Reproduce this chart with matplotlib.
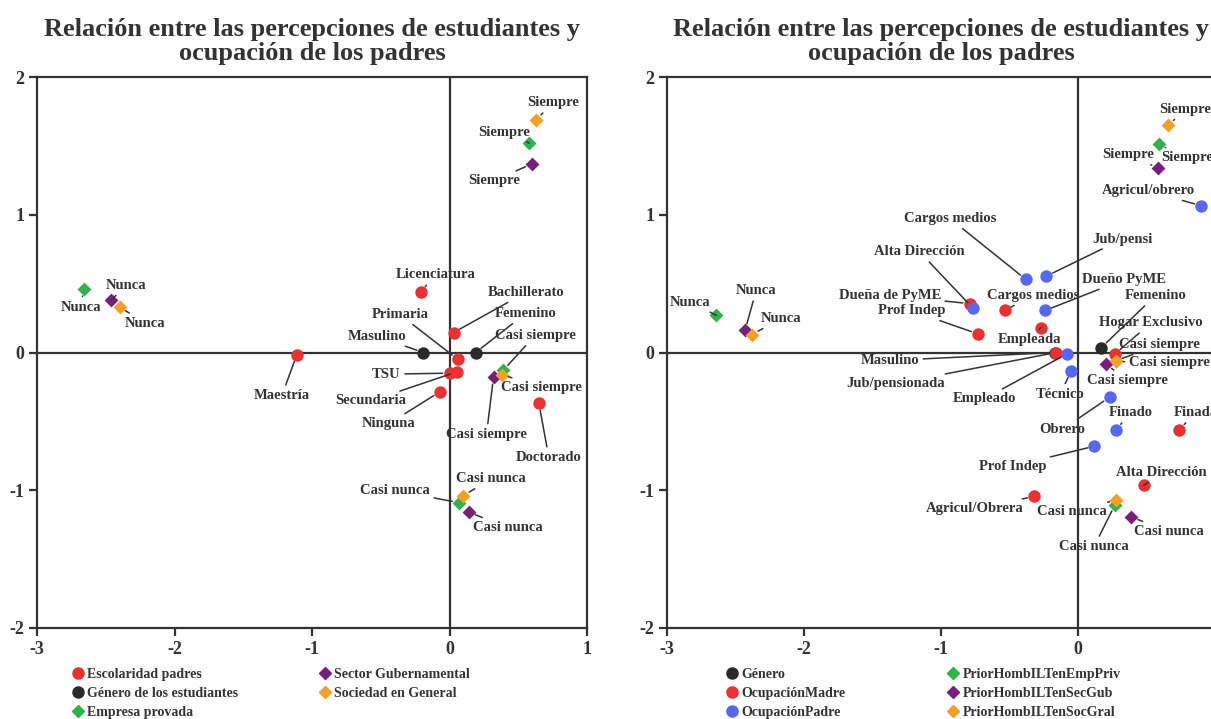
import matplotlib
matplotlib.use("Agg")
import matplotlib.pyplot as plt
from matplotlib.lines import Line2D

FONT = ["Liberation Serif", "DejaVu Serif"]
plt.rcParams['font.family'] = FONT
plt.rcParams['font.weight'] = 'bold'

TITLE = "Relación entre las percepciones de estudiantes y\nocupación de los padres"
xticks = [-3, -2, -1, 0, 1]
yticks = [-2, -1, 0, 1, 2]
xticklabels_left = ["-3", "-2", "-1", "0", "1"]
xticklabels_right = ["-3", "-2", "-1", "0", ""]   # the "1" falls outside the picture
yticklabels = ["-2", "-1", "0", "1", "2"]

RED = '#EE2F2F'
BLUE = '#5667F6'
GREEN = '#2DB54A'
PURPLE = '#7A1E7C'
ORANGE = '#F5A021'
BLACK = '#2A2A2A'
INK = '#333333'

# ---------------- Left panel data ----------------
esc_labels = ["Licenciatura", "Bachillerato", "Primaria", "TSU", "Secundaria", "Ninguna", "Maestría", "Doctorado"]
esc_x = [-0.21, 0.03, 0.06, 0.0, 0.055, -0.07, -1.11, 0.65]
esc_y = [0.44, 0.145, -0.05, -0.15, -0.14, -0.285, -0.015, -0.37]

gen_labels = ["Masulino", "Femenino"]
gen_x = [-0.19, 0.19]
gen_y = [0.0, 0.0]

resp_labels = ["Nunca", "Siempre", "Casi siempre", "Casi nunca"]
emp_x = [-2.66, 0.58, 0.39, 0.07]
emp_y = [0.46, 1.52, -0.13, -1.09]
sec_x = [-2.46, 0.60, 0.32, 0.14]
sec_y = [0.38, 1.37, -0.18, -1.16]
soc_x = [-2.40, 0.63, 0.38, 0.10]
soc_y = [0.33, 1.69, -0.16, -1.04]

# ---------------- Right panel data ----------------
gen2_labels = ["Masulino", "Femenino"]
gen2_x = [-0.17, 0.17]
gen2_y = [0.0, 0.035]

madre_labels = ["Dueña de PyME", "Cargos medios", "Prof Indep", "Empleada", "Jub/pensionada",
                "Hogar Exclusivo", "Finada", "Alta Dirección", "Agricul/Obrera"]
madre_x = [-0.79, -0.535, -0.73, -0.27, -0.16, 0.27, 0.74, 0.48, -0.32]
madre_y = [0.355, 0.305, 0.135, 0.18, 0.0, -0.01, -0.56, -0.965, -1.045]

padre_labels = ["Agricul/obrero", "Cargos medios", "Jub/pensi", "Alta Dirección", "Dueño PyME",
                "Empleado", "Técnico", "Obrero", "Finado", "Prof Indep"]
padre_x = [0.90, -0.38, -0.23, -0.77, -0.24, -0.08, -0.05, 0.23, 0.28, 0.12]
padre_y = [1.065, 0.53, 0.555, 0.325, 0.305, -0.01, -0.135, -0.325, -0.56, -0.68]

priv_x = [-2.64, 0.59, 0.275, 0.27]
priv_y = [0.27, 1.51, -0.06, -1.105]
gub_x = [-2.43, 0.585, 0.205, 0.39]
gub_y = [0.16, 1.34, -0.085, -1.195]
gral_x = [-2.38, 0.66, 0.28, 0.28]
gral_y = [0.13, 1.65, -0.065, -1.07]

# ---------------- label offsets (pixels) : layout ----------------
off_esc = [(15, 17), (72, 40), (-58, 45), (-63, -1), (-86, -29), (-51, -32), (-15, -41), (10, -54)]
off_gen = [(-46, 16), (50, 39)]
off_emp = [(-3, -18), (-25, 11), (32, 35), (-64, 12)]
off_sec = [(15, 15), (-38, -17), (-7, -57), (39, -15)]
off_soc = [(26, -16), (17, 17), (40, -13), (28, 17)]

off_gen2 = [(-165, -8), (54, 52)]
off_madre = [(-80, 8), (28, 15), (-66, 23), (-12, -12), (-160, -31), (36, 31), (16, 17), (18, 13), (-59, -12)]
off_padre = [(-53, 15), (-76, 61), (76, 37), (-53, 56), (79, 31), (-83, -45), (-11, -23), (-47, -32), (14, 17), (-82, -20)]
off_priv = [(-26, 13), (28, -13), (44, 16), (-21, -42)]
off_gub = [(11, 40), (-30, 13), (21, -16), (37, -14)]
off_gral = [(29, 16), (17, 16), (53, -1), (-44, -12)]

W, H = 1211, 719
fig = plt.figure(figsize=(W / 100, H / 100), dpi=100)

ax1 = fig.add_axes([37 / W, 1 - 628 / H, 550 / W, 551 / H])
ax2 = fig.add_axes([667 / W, 1 - 628 / H, 548 / W, 551 / H])

LABEL_FS = 10.5


def style(ax, xlabels):
    ax.set_xlim(-3, 1)
    ax.set_ylim(-2, 2)
    ax.set_xticks(xticks)
    ax.set_yticks(yticks)
    ax.set_xticklabels(xlabels)
    ax.set_yticklabels(yticklabels)
    for s in ax.spines.values():
        s.set_color(INK)
        s.set_linewidth(1.6)
    ax.tick_params(direction='out', length=6, width=1.6, color=INK,
                   labelsize=13, labelcolor=INK, pad=3)
    for lab in ax.get_xticklabels() + ax.get_yticklabels():
        lab.set_fontweight('bold')
    ax.axhline(0, color=INK, lw=1.6, zorder=1)
    ax.axvline(0, color=INK, lw=1.6, zorder=1)
    ax.set_title(TITLE, fontsize=19, fontweight='bold', color=INK, pad=12, linespacing=1.1)


def series(ax, xs, ys, labels, offs, color, marker):
    s = 80 if marker == 'o' else 50
    ax.scatter(xs, ys, s=s, marker=marker, color=color, zorder=4, linewidths=0)
    for x, y, lab, (dx, dy) in zip(xs, ys, labels, offs):
        ax.annotate(lab, (x, y), xytext=(dx, dy), textcoords='offset pixels',
                    ha='center', va='center', fontsize=LABEL_FS, fontweight='bold',
                    color=INK, zorder=5,
                    arrowprops=dict(arrowstyle='-', color=INK, lw=1.1,
                                    shrinkA=1, shrinkB=5))


style(ax1, xticklabels_left)
style(ax2, xticklabels_right)

series(ax1, esc_x, esc_y, esc_labels, off_esc, RED, 'o')
series(ax1, gen_x, gen_y, gen_labels, off_gen, BLACK, 'o')
series(ax1, emp_x, emp_y, resp_labels, off_emp, GREEN, 'D')
series(ax1, sec_x, sec_y, resp_labels, off_sec, PURPLE, 'D')
series(ax1, soc_x, soc_y, resp_labels, off_soc, ORANGE, 'D')

series(ax2, gen2_x, gen2_y, gen2_labels, off_gen2, BLACK, 'o')
series(ax2, madre_x, madre_y, madre_labels, off_madre, RED, 'o')
series(ax2, padre_x, padre_y, padre_labels, off_padre, BLUE, 'o')
series(ax2, priv_x, priv_y, resp_labels, off_priv, GREEN, 'D')
series(ax2, gub_x, gub_y, resp_labels, off_gub, PURPLE, 'D')
series(ax2, gral_x, gral_y, resp_labels, off_gral, ORANGE, 'D')


def handle(color, marker):
    ms = 8 if marker == 'o' else 6.5
    return Line2D([], [], marker=marker, color=color, linestyle='None', markersize=ms)


leg1_names = ["Escolaridad padres", "Género de los estudiantes", "Empresa provada",
              "Sector Gubernamental", "Sociedad en General"]
leg1_h = [handle(RED, 'o'), handle(BLACK, 'o'), handle(GREEN, 'D'), handle(PURPLE, 'D'), handle(ORANGE, 'D')]
leg2_names = ["Género", "OcupaciónMadre", "OcupaciónPadre",
              "PriorHombILTenEmpPriv", "PriorHombILTenSecGub", "PriorHombILTenSocGral"]
leg2_h = [handle(BLACK, 'o'), handle(RED, 'o'), handle(BLUE, 'o'),
          handle(GREEN, 'D'), handle(PURPLE, 'D'), handle(ORANGE, 'D')]

for names, hs, x0, cs in [(leg1_names, leg1_h, 72 / W, 5.8), (leg2_names, leg2_h, 726 / W, 7.35)]:
    lg = fig.legend(hs, names, loc='upper left', bbox_to_anchor=(x0, 1 - 668 / H),
                    ncol=2, frameon=False, fontsize=10, handlelength=0.8,
                    handletextpad=0.3, labelspacing=0.42, columnspacing=cs,
                    borderpad=0, borderaxespad=0)
    for t in lg.get_texts():
        t.set_color(INK)
        t.set_fontweight('bold')

fig.savefig("out.png", dpi=100)
